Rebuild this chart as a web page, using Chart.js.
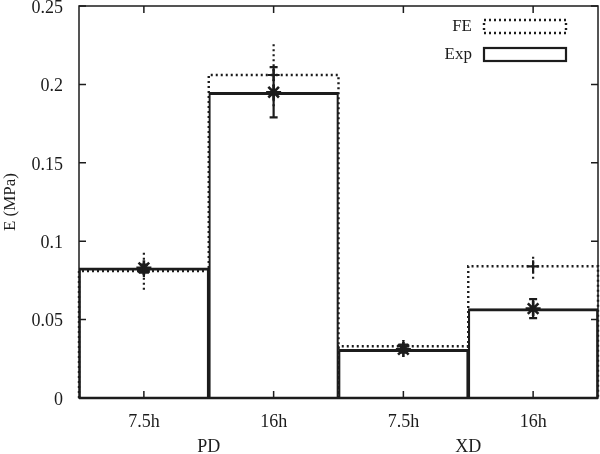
<!DOCTYPE html>
<html>
<head>
<meta charset="utf-8">
<script src="https://cdn.jsdelivr.net/npm/chart.js@4.4.0/dist/chart.umd.min.js"></script>
<style>
  html, body { margin: 0; padding: 0; background: #fff; }
</style>
</head>
<body>
<canvas id="chart" width="600" height="454"></canvas>
<script>
// data
const categories = ["7.5h", "16h", "7.5h", "16h"];
const groups = ["PD", "XD"];
const yTicks = [0, 0.05, 0.1, 0.15, 0.2, 0.25];

const expValues = [0.083, 0.195, 0.031, 0.057];
const expLow = [0.080, 0.179, 0.029, 0.051];
const expHigh = [0.085, 0.211, 0.034, 0.063];

const feValues = [0.081, 0.206, 0.033, 0.084];
const feLow = [0.069, 0.186, 0.030, 0.076];
const feHigh = [0.093, 0.226, 0.037, 0.092];

const ink = "#1c1c1c";
const serif = "'Liberation Serif', 'DejaVu Serif', serif";
const DOTS = [2, 3];

// dotted outline for the FE bars (Chart.js bars can't dash their border)
const dottedBars = {
  id: "dottedBars",
  afterDatasetDraw(chart, args) {
    if (chart.data.datasets[args.index].label !== "FE") return;
    const ctx = chart.ctx;
    ctx.save();
    ctx.strokeStyle = ink;
    ctx.lineWidth = 2.4;
    ctx.setLineDash(DOTS);
    args.meta.data.forEach(bar => {
      const { x, y, base, width } = bar.getProps(["x", "y", "base", "width"], true);
      ctx.beginPath();
      ctx.moveTo(x - width / 2, base);
      ctx.lineTo(x - width / 2, y);
      ctx.lineTo(x + width / 2, y);
      ctx.lineTo(x + width / 2, base);
      ctx.stroke();
    });
    ctx.restore();
  }
};

// error bars, frame, inward ticks and the gnuplot style key
const extras = {
  id: "extras",
  afterDatasetsDraw(chart) {
    const ctx = chart.ctx;
    const xs = chart.scales.x, ys = chart.scales.y;
    ctx.save();
    ctx.strokeStyle = ink;
    ctx.lineWidth = 2.2;
    // FE: dotted, no caps
    ctx.setLineDash(DOTS);
    categories.forEach((c, i) => {
      const x = xs.getPixelForValue(i);
      ctx.beginPath();
      ctx.moveTo(x, ys.getPixelForValue(feLow[i]));
      ctx.lineTo(x, ys.getPixelForValue(feHigh[i]));
      ctx.stroke();
    });
    // Exp: solid with caps
    ctx.setLineDash([]);
    categories.forEach((c, i) => {
      const x = xs.getPixelForValue(i);
      const y0 = ys.getPixelForValue(expLow[i]);
      const y1 = ys.getPixelForValue(expHigh[i]);
      ctx.beginPath();
      ctx.moveTo(x, y0); ctx.lineTo(x, y1);
      ctx.moveTo(x - 4, y0); ctx.lineTo(x + 4, y0);
      ctx.moveTo(x - 4, y1); ctx.lineTo(x + 4, y1);
      ctx.stroke();
    });
    ctx.restore();
  },
  afterDraw(chart) {
    const ctx = chart.ctx;
    const a = chart.chartArea;
    const xs = chart.scales.x, ys = chart.scales.y;
    ctx.save();
    ctx.strokeStyle = ink;
    ctx.lineWidth = 1.5;
    ctx.strokeRect(a.left, a.top, a.right - a.left, a.bottom - a.top);
    ctx.beginPath();
    yTicks.forEach(v => {
      const y = ys.getPixelForValue(v);
      ctx.moveTo(a.left, y); ctx.lineTo(a.left + 7, y);
      ctx.moveTo(a.right, y); ctx.lineTo(a.right - 7, y);
    });
    categories.forEach((c, i) => {
      const x = xs.getPixelForValue(i);
      ctx.moveTo(x, a.bottom); ctx.lineTo(x, a.bottom - 7);
      ctx.moveTo(x, a.top); ctx.lineTo(x, a.top + 7);
    });
    ctx.stroke();
    // heavier base line, as in the original
    ctx.lineWidth = 2.6;
    ctx.beginPath();
    ctx.moveTo(a.left, a.bottom); ctx.lineTo(a.right, a.bottom);
    ctx.stroke();

    // key
    ctx.font = "17px " + serif;
    ctx.fillStyle = ink;
    ctx.textAlign = "right";
    ctx.textBaseline = "middle";
    const bx = a.right - 114, bw = 82, bh = 13;
    ctx.fillText("FE", bx - 12, 27);
    ctx.fillText("Exp", bx - 12, 55);
    ctx.lineWidth = 2.4;
    ctx.setLineDash(DOTS);
    ctx.strokeRect(bx, 20, bw, bh);
    ctx.setLineDash([]);
    ctx.lineWidth = 2.2;
    ctx.strokeRect(bx, 48, bw, bh);
    ctx.restore();
  }
};

const tickFont = { family: serif, size: 18 };

new Chart(document.getElementById("chart"), {
  type: "bar",
  data: {
    labels: categories,
    datasets: [
      {
        type: "line", label: "Exp points", data: expValues, order: 1,
        showLine: false, pointStyle: "star", pointRadius: 7.5,
        borderColor: ink, backgroundColor: "transparent", pointBorderWidth: 2.6
      },
      {
        type: "line", label: "FE points", data: feValues, order: 2,
        showLine: false, pointStyle: "cross", pointRadius: 6,
        borderColor: ink, backgroundColor: "transparent", pointBorderWidth: 2.2
      },
      {
        label: "Exp", data: expValues, order: 3,
        backgroundColor: "transparent", borderColor: ink,
        borderWidth: { top: 2.4, left: 1.5, right: 1.5, bottom: 0 },
        borderSkipped: "bottom", barPercentage: 1, categoryPercentage: 1, grouped: false
      },
      {
        label: "FE", data: feValues, order: 4,
        backgroundColor: "transparent", borderWidth: 0,
        barPercentage: 1, categoryPercentage: 1, grouped: false
      }
    ]
  },
  options: {
    responsive: false,
    animation: false,
    devicePixelRatio: 1,
    layout: { autoPadding: false, padding: { left: 0, right: 2, top: 6, bottom: 0 } },
    plugins: { legend: { display: false }, tooltip: { enabled: false } },
    scales: {
      x: {
        type: "category", labels: categories, offset: true,
        grid: { display: false, drawTicks: false }, border: { display: false },
        ticks: { font: tickFont, color: ink, padding: 13, maxRotation: 0 },
        afterFit(s) { s.height = 34; s.paddingLeft = 0; s.paddingRight = 0; }
      },
      group: {
        type: "category", labels: groups, position: "bottom", offset: true,
        grid: { display: false, drawTicks: false }, border: { display: false },
        ticks: { font: tickFont, color: ink, padding: 4, maxRotation: 0 },
        afterFit(s) { s.height = 22; s.paddingLeft = 0; s.paddingRight = 0; }
      },
      y: {
        min: 0, max: 0.25,
        grid: { display: false, drawTicks: false }, border: { display: false },
        ticks: {
          stepSize: 0.05, font: tickFont, color: ink, padding: 16, labelOffset: 2,
          callback: v => String(Number(v.toFixed(2)))
        },
        title: { display: true, text: "E (MPa)", font: { family: serif, size: 17 }, color: ink, padding: { top: 0, bottom: 0 } },
        afterFit(s) { s.width = 79; s.paddingTop = 0; s.paddingBottom = 0; }
      }
    }
  },
  plugins: [dottedBars, extras]
});
</script>
</body>
</html>
